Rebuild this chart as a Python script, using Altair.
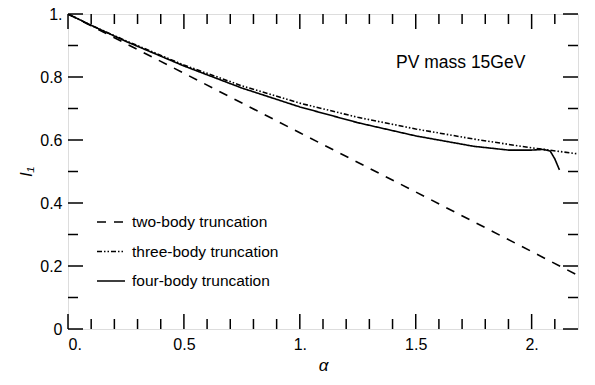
import altair as alt
import pandas as pd

# ---- data ----
alpha_two = [0.0, 0.5, 1.0, 1.5, 2.0, 2.2]
I_two = [1.0, 0.812, 0.623, 0.435, 0.246, 0.170]

alpha_three = [0.0, 0.1, 0.25, 0.5, 0.75, 1.0, 1.25, 1.5, 1.75, 2.0, 2.2]
I_three = [1.0, 0.964, 0.915, 0.838, 0.772, 0.717, 0.672, 0.635, 0.603, 0.575, 0.556]

alpha_four = [0.0, 0.1, 0.25, 0.5, 0.75, 1.0, 1.25, 1.5, 1.75, 1.9, 2.0, 2.05, 2.08, 2.1, 2.12]
I_four = [1.0, 0.964, 0.913, 0.835, 0.765, 0.705, 0.655, 0.613, 0.580, 0.568, 0.568, 0.570, 0.565, 0.540, 0.505]

series_names = ["two-body truncation", "three-body truncation", "four-body truncation"]
series_dash = [[9, 8], [5, 2, 1.5, 2, 1.5, 2], [1, 0]]

x_major = [0.0, 0.5, 1.0, 1.5, 2.0]
x_minor = [0.1, 0.2, 0.3, 0.4, 0.6, 0.7, 0.8, 0.9, 1.1, 1.2, 1.3, 1.4, 1.6, 1.7, 1.8, 1.9, 2.1]
y_major = [0.0, 0.2, 0.4, 0.6, 0.8, 1.0]
y_minor = [0.1, 0.3, 0.5, 0.7, 0.9]

annotation = ["PV mass 15GeV"]

FONT = "Liberation Sans"
W, H = 510, 315

rows = []
for a, v in zip(alpha_two, I_two):
    rows.append({"alpha": a, "I": v, "series": series_names[0], "ord": 0})
for a, v in zip(alpha_three, I_three):
    rows.append({"alpha": a, "I": v, "series": series_names[1], "ord": 1})
for a, v in zip(alpha_four, I_four):
    rows.append({"alpha": a, "I": v, "series": series_names[2], "ord": 2})
df = pd.DataFrame(rows)

xs = alt.Scale(domain=[0, 2.2], nice=False, zero=False)
ys = alt.Scale(domain=[0, 1], nice=False)

lines = alt.Chart(df).mark_line(color="black", strokeWidth=1.6, clip=True).encode(
    x=alt.X("alpha:Q", scale=xs,
            axis=alt.Axis(values=x_major, title="α", titleFontStyle="italic",
                          labelExpr="datum.value == 0.5 || datum.value == 1.5 ? datum.label : format(datum.value, '.0f') + '.'",
                          domain=False, ticks=False, grid=False, labelPadding=7,
                          labelFontSize=16, titleFontSize=17, titleFontWeight="normal",
                          titlePadding=5, labelFont=FONT, titleFont=FONT, labelColor="black",
                          titleColor="black")),
    y=alt.Y("I:Q", scale=ys,
            axis=alt.Axis(values=y_major, title="I₁", titleFontStyle="italic",
                          labelExpr="datum.value == 0 ? '0' : (datum.value == 1 ? '1.' : datum.label)",
                          domain=False, ticks=False, grid=False, labelPadding=6,
                          labelFontSize=16, titleFontSize=17, titleFontWeight="normal",
                          titlePadding=4, labelFont=FONT, titleFont=FONT, labelColor="black",
                          titleColor="black", labelFlush=False)),
    strokeDash=alt.StrokeDash("series:N",
                              scale=alt.Scale(domain=series_names, range=series_dash),
                              legend=alt.Legend(title=None, orient="none", legendX=28, legendY=193,
                                                symbolType="stroke", symbolSize=784,
                                                symbolStrokeWidth=1.5, symbolStrokeColor="black",
                                                labelFontSize=15.5, labelFont=FONT, labelColor="black",
                                                rowPadding=5.5, labelOffset=6)),
    order="ord:Q",
    detail="series:N",
)

def tick_layer(vals, along, length):
    d = pd.DataFrame({"v": vals})
    if along == "x":
        bottom = alt.Chart(d).mark_rule(color="black", strokeWidth=1.5).encode(
            x=alt.X("v:Q", scale=xs), y=alt.value(H), y2=alt.value(H - length))
        top = alt.Chart(d).mark_rule(color="black", strokeWidth=1.5).encode(
            x=alt.X("v:Q", scale=xs), y=alt.value(0), y2=alt.value(length))
        return [bottom, top]
    left = alt.Chart(d).mark_rule(color="black", strokeWidth=1.5).encode(
        y=alt.Y("v:Q", scale=ys), x=alt.value(0), x2=alt.value(length))
    right = alt.Chart(d).mark_rule(color="black", strokeWidth=1.5).encode(
        y=alt.Y("v:Q", scale=ys), x=alt.value(W), x2=alt.value(W - length))
    return [left, right]

ticks = (tick_layer(x_major, "x", 15) + tick_layer(x_minor, "x", 10)
         + tick_layer(y_major, "y", 15) + tick_layer(y_minor, "y", 10))

ann = alt.Chart(pd.DataFrame({"t": annotation, "x": [1.694], "y": [0.845]})).mark_text(
    font=FONT, fontSize=17.5, color="black", align="center", baseline="middle"
).encode(x=alt.X("x:Q", scale=xs), y=alt.Y("y:Q", scale=ys), text="t:N")

chart = alt.layer(lines, *ticks, ann).properties(
    width=W, height=H,
    padding={"left": 68, "top": 14, "right": 17, "bottom": 56},
    autosize=alt.AutoSizeParams(type="none"),
).configure_view(stroke="black", strokeWidth=1.8).configure(background="white")

chart.save("out.html", embed_options={"renderer": "svg", "actions": False})
